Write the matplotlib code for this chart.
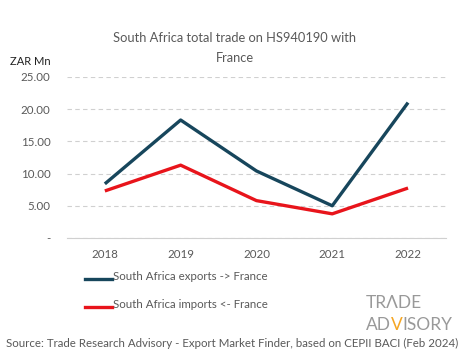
import matplotlib.pyplot as plt
import numpy as np

# Datos
YEARS = ["2018", "2019", "2020", "2021", "2022"]
EXPORTS = [8.4, 18.3, 10.4, 5.0, 21.0]
IMPORTS = [7.3, 11.3, 5.8, 3.75, 7.75]
YTICKS = [0, 5, 10, 15, 20, 25]
YTICK_LABELS = ["-", "5.00", "10.00", "15.00", "20.00", "25.00"]

TITULO = ["South Africa total trade on HS940190 with", "France"]
FUENTE = "Source: Trade Research Advisory - Export Market Finder, based on CEPII BACI (Feb 2024)"

GRIS = "#595959"
AZUL = "#17465c"
ROJO = "#e8141b"
NARANJA = "#f5a623"
GRIS_LOGO = "#999999"

plt.rcParams['font.family'] = ['Lato', 'DejaVu Sans']

fig = plt.figure(figsize=(4.65, 3.59), dpi=100)
ax = fig.add_axes([0.144, 0.337, 0.815, 0.449])

x = np.arange(len(YEARS))
ax.plot(x, EXPORTS, color=AZUL, lw=2.4, solid_capstyle='butt')
ax.plot(x, IMPORTS, color=ROJO, lw=2.4, solid_capstyle='butt')

ax.set_xlim(-0.5, len(YEARS) - 0.5)
ax.set_ylim(0, 25)
ax.set_yticks(YTICKS)
ax.set_yticklabels(YTICK_LABELS)
ax.set_xticks(x)
ax.set_xticklabels(YEARS)
ax.tick_params(length=0, labelsize=8.3, colors=GRIS)
ax.tick_params(axis='y', pad=12)
ax.tick_params(axis='x', pad=8)
ax.yaxis.grid(True, color="#d0d0d0", linestyle=(0, (4, 3)), lw=0.8)
for s in ["top", "right", "left"]:
    ax.spines[s].set_visible(False)
ax.spines["bottom"].set_color("#d0d0d0")

fig.text(0.505, 1 - 38 / 359, TITULO[0], ha='center', va='center', fontsize=9.3, color=GRIS)
fig.text(0.505, 1 - 58 / 359, TITULO[1], ha='center', va='center', fontsize=9.3, color=GRIS)
fig.text(0.022, 0.83, "ZAR Mn", ha='left', va='center', fontsize=8, color="#222222")

# leyenda
for i, (lbl, col) in enumerate([("South Africa exports -> France", AZUL),
                                 ("South Africa imports <- France", ROJO)]):
    yy = 1 - (277 + 28 * i) / 359
    fig.add_artist(plt.Line2D([85 / 465, 112 / 465], [yy - 0.005, yy - 0.005],
                              color=col, lw=2.4, transform=fig.transFigure))
    fig.text(113 / 465, yy, lbl, ha='left', va='center', fontsize=8.3, color=GRIS)

# logo
LOGO_SIZE = 12.5
fig.text(366 / 465, 1 - 308 / 359, "TR\u039bDE", ha='left', va='baseline',
         fontsize=LOGO_SIZE, color=GRIS_LOGO)
y2 = 1 - 330 / 359
a1 = fig.text(366 / 465, y2, "AD", ha='left', va='baseline',
              fontsize=LOGO_SIZE, color=GRIS_LOGO)
fig.canvas.draw()
bb = a1.get_window_extent().transformed(fig.transFigure.inverted())
a2 = fig.text(bb.x1, y2, "V", ha='left', va='baseline', fontsize=LOGO_SIZE, color=NARANJA)
fig.canvas.draw()
bb2 = a2.get_window_extent().transformed(fig.transFigure.inverted())
fig.text(bb2.x1, y2, "ISORY", ha='left', va='baseline', fontsize=LOGO_SIZE, color=GRIS_LOGO)

fig.text(0.5, 1 - 343 / 359, FUENTE, ha='center', va='center', fontsize=8.3, color=GRIS)

fig.savefig("out.png", dpi=100)
